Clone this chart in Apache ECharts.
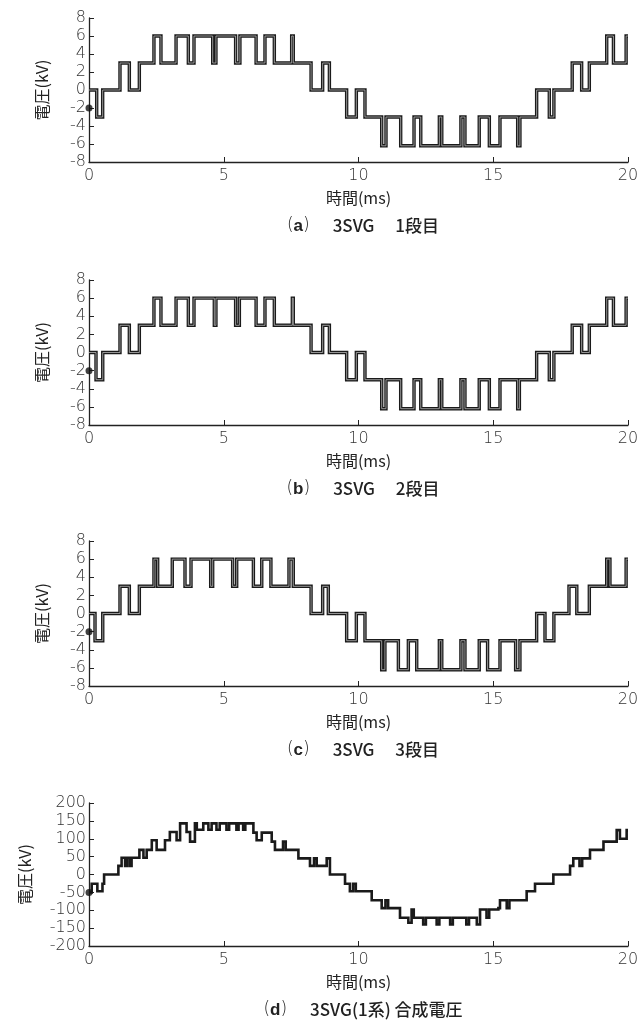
<!DOCTYPE html>
<html>
<head>
<meta charset="utf-8">
<script src="https://cdn.jsdelivr.net/npm/echarts@6/dist/echarts.min.js"></script>
<style>
  html, body { margin: 0; padding: 0; background: #fff; }
  #chart { width: 643px; height: 1023px; }
</style>
</head>
<body>
<div id="chart"></div>
<script>
  // (a) 1段目 : 切替時刻(ms) と その時刻からの電圧(kV)
  var aT = [0, 0.285, 0.507, 1.15, 1.497, 1.868, 2.41, 2.67, 3.23, 3.686, 3.896, 4.59, 4.71, 5.44, 5.60, 6.20, 6.53, 6.877, 7.52, 7.58, 8.24, 8.67, 8.92, 9.56, 9.92,
            10.24, 10.86, 11.02, 11.565, 12.06, 12.31, 13.0, 13.09, 13.80, 13.95, 14.48, 14.855, 15.25, 15.906, 15.99, 16.61, 17.08, 17.25, 17.93, 18.28, 18.565, 19.21, 19.46, 19.93, 20];
  var aV = [0, -3, 0, 3, 0, 3, 6, 3, 6, 3, 6, 3, 6, 3, 6, 3, 6, 3, 6, 3, 0, 3, 0, -3, 0,
            -3, -6.2, -3, -6.2, -3, -6.2, -3, -6.2, -3, -6.2, -3, -6.2, -3, -6.2, -3, 0, -3, 0, 3, 0, 3, 6, 3, 6, 6];
  // (b) 2段目
  var bT = [0, 0.26, 0.51, 1.15, 1.497, 1.868, 2.41, 2.67, 3.23, 3.686, 3.896, 4.65, 4.71, 5.44, 5.58, 6.20, 6.53, 6.877, 7.545, 7.58, 8.24, 8.67, 8.92, 9.56, 9.92,
            10.24, 10.86, 11.02, 11.565, 12.06, 12.31, 13.0, 13.09, 13.80, 13.95, 14.48, 14.855, 15.25, 15.906, 15.97, 16.61, 17.08, 17.25, 17.93, 18.28, 18.565, 19.21, 19.46, 19.93, 20];
  var bV = [0, -3, 0, 3, 0, 3, 6, 3, 6, 3, 6, 3, 6, 3, 6, 3, 6, 3, 6, 3, 0, 3, 0, -3, 0,
            -3, -6.2, -3, -6.2, -3, -6.2, -3, -6.2, -3, -6.2, -3, -6.2, -3, -6.2, -3, 0, -3, 0, 3, 0, 3, 6, 3, 6, 6];
  // (c) 3段目
  var cT = [0, 0.223, 0.51, 1.15, 1.497, 1.868, 2.41, 2.548, 3.09, 3.562, 3.785, 4.515, 4.589, 5.33, 5.48, 6.10, 6.41, 6.75, 7.42, 7.58, 8.24, 8.67, 8.88, 9.56, 9.92,
            10.24, 10.86, 10.98, 11.48, 11.85, 12.16, 13.0, 13.09, 13.80, 13.95, 14.48, 14.79, 15.25, 15.83, 15.99, 16.61, 16.92, 17.25, 17.81, 18.10, 18.565, 19.21, 19.33, 19.93, 20];
  var cV = [0, -3, 0, 3, 0, 3, 6, 3, 6, 3, 6, 3, 6, 3, 6, 3, 6, 3, 6, 3, 0, 3, 0, -3, 0,
            -3, -6.2, -3, -6.2, -3, -6.2, -3, -6.2, -3, -6.2, -3, -6.2, -3, -6.2, -3, 0, -3, 0, 3, 0, 3, 6, 3, 6, 6];
  // (d) 合成電圧
  var dT = [0, 0.1, 0.31, 0.5, 0.56, 1.09, 1.21, 1.34, 1.4, 1.5, 1.58, 1.87, 2.02, 2.14, 2.33, 2.51, 2.82, 3.0, 3.25, 3.38, 3.62, 3.75, 3.93, 4.0, 4.24, 4.43, 4.55,
            4.73, 4.85, 5.1, 5.2, 5.47, 5.55, 5.72, 5.8, 6.1, 6.22, 6.41, 6.78, 6.9, 7.2, 7.3, 7.77, 8.2, 8.35, 8.45, 8.82, 8.94, 9.5, 9.68, 9.8, 9.9,
            10.18, 10.49, 10.86, 11.0, 11.1, 11.23, 11.54, 11.85, 11.97, 12.05, 12.4, 12.5, 12.9, 13.0, 13.4, 13.5, 14.0, 14.1, 14.39, 14.51, 14.75, 14.85, 15.19, 15.25, 15.5, 15.6,
            15.99, 16.24, 16.55, 16.68, 17.23, 17.35, 17.85, 17.97, 18.2, 18.3, 18.59, 19.09, 19.58, 19.7, 19.95, 20];
  var dV = [-50, -26, -47, -26, 0, 24, 47, 24, 47, 24, 47, 69, 47, 69, 96, 69, 96, 119, 96, 143, 119, 92, 143, 125, 143, 125, 143,
            125, 143, 125, 143, 125, 143, 125, 143, 117, 96, 117, 92, 69, 92, 69, 45, 24, 45, 24, 45, 0, -26, -47, -26, -47,
            -47, -72, -94, -72, -94, -94, -121, -135, -98, -121, -140, -121, -140, -121, -140, -121, -140, -121, -140, -98, -121, -98, -94, -72, -94, -72,
            -72, -47, -26, -26, 0, 0, 24, 45, 24, 45, 69, 92, 124, 100, 124, 124];

  var tops = [18, 280, 541, 803];
  var hgt = [144, 145, 145, 143];
  var yMin = [-8, -8, -8, -200], yMax = [8, 8, 8, 200], yStep = [2, 2, 2, 50];
  var capLetter = ['a', 'b', 'c', 'd'];
  var capText = ['3SVG\u3000 1段目', '3SVG\u3000 2段目', '3SVG\u3000 3段目', '3SVG(1系) 合成電圧'];
  var startV = [-2, -2, -2, -50];
  var tList = [aT, bT, cT, dT], vList = [aV, bV, cV, dV];

  var jp = 'Noto Sans CJK JP';
  var num = 'DejaVu Sans';

  // 階段波形の頂点
  function stepPoints(tt, vv) {
    var pts = [[tt[0], vv[0]]];
    for (var k = 1; k < tt.length; k++) {
      pts.push([tt[k], vv[k - 1]]);
      pts.push([tt[k], vv[k]]);
    }
    return pts;
  }

  // 細いパルスが間引かれないように polyline で描く
  function stepSeries(idx, pts, color, width) {
    return {
      type: 'custom', xAxisIndex: idx, yAxisIndex: idx, data: pts, clip: true,
      encode: { x: 0, y: 1 }, animation: false, silent: true,
      renderItem: function (params, api) {
        if (params.dataIndex !== 0) return null;
        var p = [];
        for (var m = 0; m < pts.length; m++) p.push(api.coord(pts[m]));
        return {
          type: 'polyline',
          shape: { points: p },
          style: { stroke: color, lineWidth: width, fill: null, lineJoin: 'miter', lineCap: 'butt' }
        };
      }
    };
  }

  var chart = echarts.init(document.getElementById('chart'));
  var grid = [], xAxis = [], yAxis = [], series = [], title = [];
  for (var i = 0; i < 4; i++) {
    grid.push({ left: 89, right: 15, top: tops[i], height: hgt[i] });
    xAxis.push({
      gridIndex: i, type: 'value', min: 0, max: 20, interval: 5,
      name: '時間(ms)', nameLocation: 'middle', nameGap: 28,
      nameTextStyle: { fontFamily: jp, fontSize: 16, color: '#222' },
      axisLine: { onZero: false, lineStyle: { color: '#222', width: 1.3 } },
      axisTick: { inside: true, length: 5, lineStyle: { color: '#222' } },
      axisLabel: { fontFamily: num, fontWeight: 200, fontSize: 16, color: '#333', margin: 6 },
      splitLine: { show: false }
    });
    yAxis.push({
      gridIndex: i, type: 'value', min: yMin[i], max: yMax[i], interval: yStep[i],
      name: '電圧(kV)', nameLocation: 'middle', nameRotate: 90, nameGap: i == 3 ? 56 : 39,
      nameTextStyle: { fontFamily: jp, fontSize: 16, color: '#222' },
      axisLine: { show: true, onZero: false, lineStyle: { color: '#222', width: 1.3 } },
      axisTick: { show: true, inside: true, length: 5, lineStyle: { color: '#222' } },
      axisLabel: { fontFamily: num, fontWeight: 200, fontSize: 16, color: '#333', margin: 3 },
      splitLine: { show: false }
    });
    var pts = stepPoints(tList[i], vList[i]);
    series.push(stepSeries(i, pts, '#1a1a1a', i == 3 ? 2.6 : 3.4));
    if (i < 3) series.push(stepSeries(i, pts, '#b4b4b4', 0.8));
    series.push({
      type: 'scatter', xAxisIndex: i, yAxisIndex: i, data: [[0, startV[i]]],
      symbolSize: 7, itemStyle: { color: '#111' }, animation: false
    });
    title.push({
      text: '{p|(}{l|' + capLetter[i] + '}{p|)}\u3000 {t|' + capText[i] + '}',
      left: 358, textAlign: 'center', top: tops[i] + hgt[i] + 50,
      textStyle: {
        fontWeight: 'normal',
        rich: {
          p: { fontFamily: num, fontWeight: 200, fontSize: 17, color: '#222' },
          l: { fontFamily: 'Liberation Sans', fontWeight: 'bold', fontSize: 17, color: '#222' },
          t: { fontFamily: jp, fontWeight: 500, fontSize: 17, color: '#222' }
        }
      }
    });
  }

  chart.setOption({
    animation: false,
    title: title,
    grid: grid,
    xAxis: xAxis,
    yAxis: yAxis,
    series: series
  });
</script>
</body>
</html>
